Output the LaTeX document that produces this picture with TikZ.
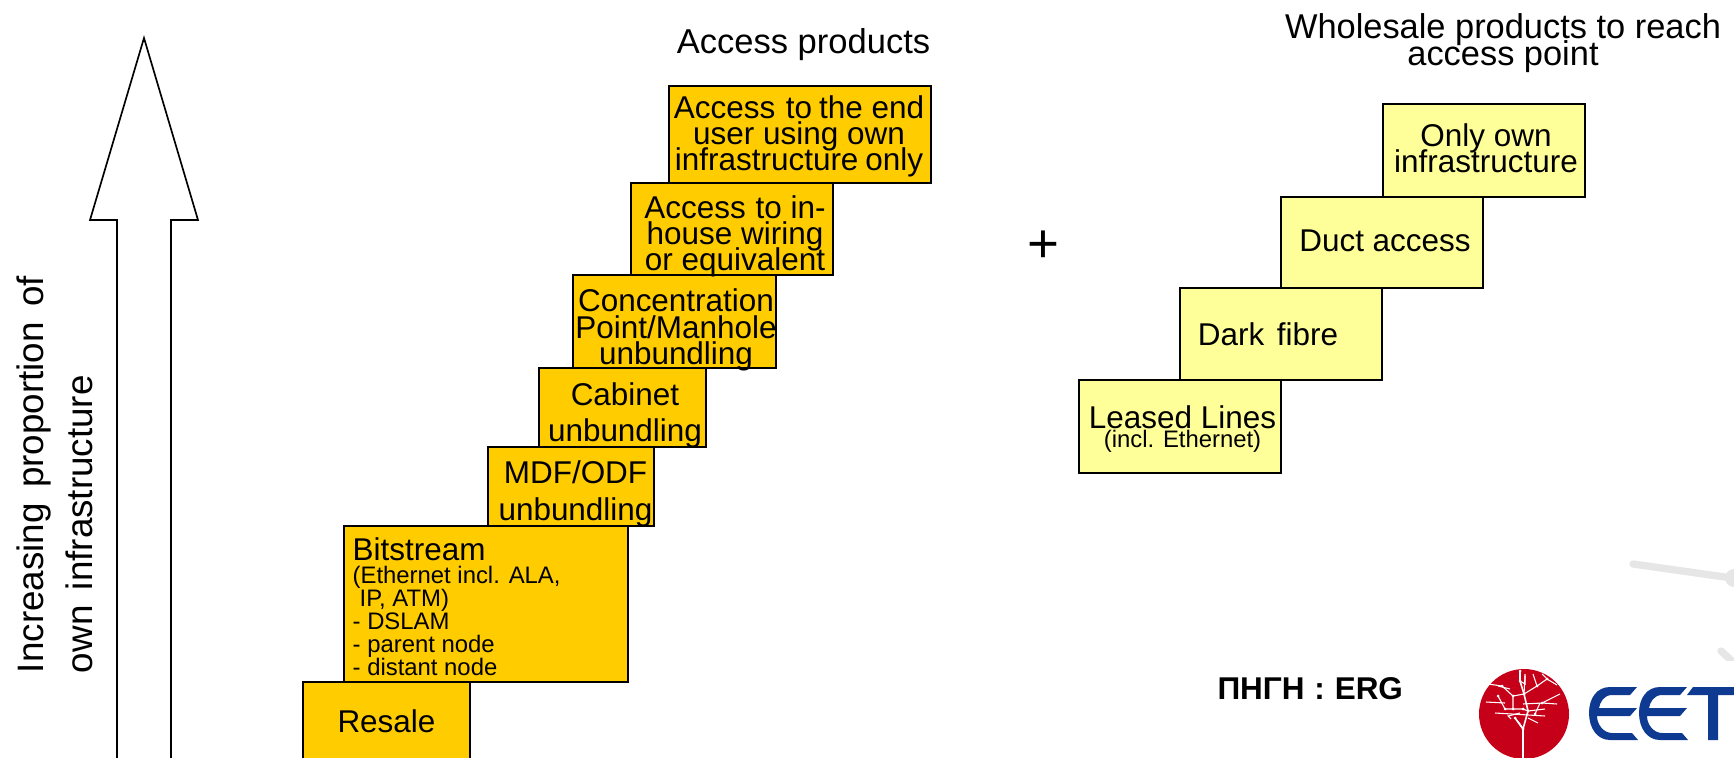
\documentclass[tikz,border=0pt]{standalone}
\usepackage{fontspec}
\setmainfont{Liberation Sans}
\newlength\pu
\setlength\pu{0.75pt}
% dx, raise of first baseline above node centre, font size, leading, lines (all px-based)
\newcommand{\boxtext}[5]{\raisebox{\dimexpr#2\pu-1.2\pu\relax}[0pt][0pt]{\makebox[0pt]{\kern#1\pu\kern#1\pu\parbox[t]{620\pu}{\centering\fontsize{#3}{#4}\selectfont\lineskiplimit=-100pt\relax #5}}}}
\tikzset{
  stepbase/.style={draw=black,line width=1.25pt,inner sep=0pt,outer sep=0pt,rectangle},
  orangebox/.style={stepbase,fill=accessorange},
  yellowbox/.style={stepbase,fill=wholeyellow},
  plaintext/.style={inner sep=0pt,outer sep=0pt},
  upshape/.style={draw=black,line width=1.25pt,fill=white,line join=miter},
  faint/.style={draw=faintgray,line width=5.5pt,line cap=round},
  twig/.style={draw=white,line width=0.8pt},
}
\definecolor{accessorange}{HTML}{FFCC00}
\definecolor{wholeyellow}{HTML}{FFFF99}
\definecolor{faintgray}{HTML}{E6E6E6}
\definecolor{logored}{HTML}{C60018}
\definecolor{logoblue}{HTML}{0F3A92}
\begin{document}
\begin{tikzpicture}[x=0.75pt,y=-0.75pt]
\useasboundingbox (0,0) rectangle (1734,757);
\clip (0,0) rectangle (1734,757);
\begin{scope}[yshift=-0.75pt]
% faint background marks
\draw[faint] (1633,563) -- (1725,576);
\fill[faintgray] (1734,577) circle (9);
\begin{scope}
\clip (1700,640) rectangle (1734,659);
\draw[faint] (1721,650) -- (1745,672);
\end{scope}
% up arrow
\draw[upshape] (144,37) -- (198,219) -- (171,219) -- (171,790) -- (117,790) -- (117,219) -- (90,219) -- cycle;
\node[plaintext,rotate=90,anchor=base west] (axislabel) at (43.5,672) {\parbox[t]{500\pu}{\raggedright\fontsize{27.6}{36.5}\selectfont\lineskiplimit=-100pt\spaceskip=11.6pt\relax Increasing proportion of\\own infrastructure}};
% access products
\node[plaintext] (accesstitle) at (803.5,51.7) {\boxtext{0}{0}{25.9}{21.75}{Access products}};
\node[orangebox,minimum width=167\pu,minimum height=90\pu] (resale) at (386.5,726) {\boxtext{0}{-4.7}{23.6}{19.5}{Resale}};
\node[orangebox,minimum width=284\pu,minimum height=156\pu] (bitstream) at (486,603) {\raisebox{43.8\pu}[0pt][0pt]{\makebox[0pt]{\parbox[t]{266.6\pu}{\raggedright\fontsize{17.9}{17.25}\selectfont\lineskiplimit=-100pt\relax{\fontsize{23.6}{17.25}\selectfont Bitstream}\\(Ethernet incl. ALA,\\\hspace*{7\pu}IP, ATM)\\- DSLAM\\- parent node\\- distant node}}}};
\node[orangebox,minimum width=166\pu,minimum height=79\pu] (mdf) at (571,485.5) {\boxtext{4.5}{4.2}{23.6}{27.75}{MDF/ODF\\unbundling}};
\node[orangebox,minimum width=167\pu,minimum height=79\pu] (cabinet) at (622.5,406.5) {\boxtext{2.5}{3.2}{23.6}{26.8}{Cabinet\\unbundling}};
\node[orangebox,minimum width=203\pu,minimum height=93\pu] (concentration) at (674.5,320.5) {\boxtext{1.5}{11.2}{23.6}{19.9}{Concentration\\Point/Manhole\\unbundling}};
\node[orangebox,minimum width=202\pu,minimum height=92\pu] (inhouse) at (732,228) {\boxtext{3}{11.8}{23.6}{19.7}{Access\hspace{7.5pt}to in-\\house wiring\\or equivalent}};
\node[orangebox,minimum width=262\pu,minimum height=97\pu] (enduser) at (800,133.5) {\boxtext{-1}{16.8}{23.6}{19.35}{Access\hspace{8pt}to\hspace{5.2pt}the end\\user using own\\infrastructure\hspace{5.2pt}only}};
% plus
\node[plaintext] (plus) at (1043.5,246) {\fontsize{41}{41}\selectfont +};
% wholesale
\node[plaintext] (wholetitle) at (1503,35) {\boxtext{0}{-1.5}{25.8}{19.9}{Wholesale products to reach\\access point}};
\node[yellowbox,minimum width=202\pu,minimum height=93\pu] (leased) at (1180,425.5) {\boxtext{2.5}{-1.2}{23.6}{13.75}{Leased Lines\\{\fontsize{17.9}{13.75}\selectfont (incl. Ethernet)}}};
\node[yellowbox,minimum width=202\pu,minimum height=92\pu] (dark) at (1281,333) {\boxtext{-13}{-10}{23.6}{19.5}{\spaceskip=12.7\pu\relax Dark fibre}};
\node[yellowbox,minimum width=202\pu,minimum height=91\pu] (duct) at (1382,241.5) {\boxtext{3}{-7.5}{23.6}{19.5}{Duct access}};
\node[yellowbox,minimum width=202\pu,minimum height=93\pu] (onlyown) at (1484,149.5) {\boxtext{2}{5.5}{23.6}{20}{Only own\\infrastructure}};
% source
\node[plaintext,anchor=base west] (source) at (1217.5,698) {\fontsize{23.6}{24}\selectfont\bfseries\spaceskip=7.4pt\relax ΠΗΓΗ : ERG};
% logo: tree in a red disc
\fill[logored] (1524,713) circle (45);
\draw[twig,line width=1.2pt] (1523,790) -- (1523,728) -- (1528,710) -- (1524,693) -- (1520,680) -- (1520,670) (1523,728) -- (1515,717);
\draw[twig] (1524,693) -- (1525,675) (1524,693) -- (1513,695) -- (1502,685) -- (1488,683) (1513,695) -- (1513,708) -- (1523,708) -- (1528,710);
\draw[twig] (1495,712) -- (1545,715) (1505,708) -- (1498,695) (1505,708) -- (1513,708) (1523,703) -- (1542,702) -- (1560,693) (1542,702) -- (1557,703) (1540,702) -- (1535,713);
\draw[twig] (1528,710) -- (1545,708) (1528,717) -- (1538,722) (1524,693) -- (1537,685) -- (1547,678) -- (1542,673) (1537,685) -- (1533,673) (1547,678) -- (1557,684);
\draw[twig] (1520,680) -- (1525,683) -- (1525,673) (1510,688) -- (1498,685) (1511,718) -- (1508,715) -- (1520,712) (1515,717) -- (1520,723) -- (1523,728) (1486,701) -- (1505,702);
\foreach \dx/\dy in {1523/728,1528/710,1524/693,1520/680,1513/695,1513/708,1505/708,1542/702,1537/685,1547/678,1523/708,1535/713,1515/717,1502/685,1498/695,1520/670}
  \fill[white] (\dx,\dy) circle (1.5);
% logo: EET
\fill[logoblue] (1637,686) -- (1630,694) -- (1612,694) .. controls (1604,694) and (1600,701) .. (1599,707) -- (1637,707) -- (1630,715) -- (1597,715) .. controls (1597,724) and (1604,732) .. (1612,732) -- (1632,732) -- (1638,739) -- (1610,739) .. controls (1597,739) and (1589,727) .. (1589,712) .. controls (1589,697) and (1597,686) .. (1610,686) -- cycle;
\fill[logoblue,xshift=37.5pt] (1637,686) -- (1630,694) -- (1612,694) .. controls (1604,694) and (1600,701) .. (1599,707) -- (1637,707) -- (1630,715) -- (1597,715) .. controls (1597,724) and (1604,732) .. (1612,732) -- (1632,732) -- (1638,739) -- (1610,739) .. controls (1597,739) and (1589,727) .. (1589,712) .. controls (1589,697) and (1597,686) .. (1610,686) -- cycle;
\fill[logoblue] (1693,686) -- (1740,686) -- (1740,694) -- (1718,694) -- (1718,739) -- (1708,739) -- (1708,694) -- (1687,694) -- cycle;
\end{scope}
\end{tikzpicture}
\end{document}
